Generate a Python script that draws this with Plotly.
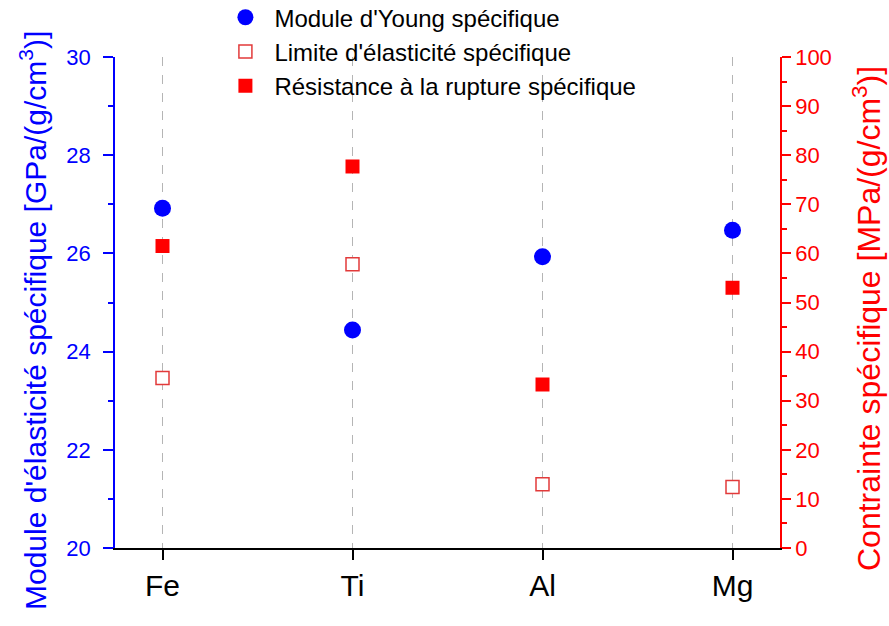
import plotly.graph_objects as go

metals = ["Fe", "Ti", "Al", "Mg"]
young_specific = [26.92, 24.44, 25.93, 26.47]          # GPa/(g/cm3), left axis
yield_specific = [34.6, 57.8, 13.0, 12.4]              # MPa/(g/cm3), right axis
tensile_specific = [61.5, 77.7, 33.3, 53.0]            # MPa/(g/cm3), right axis

left_title = "Module d'élasticité spécifique [GPa/(g/cm<sup>3</sup>)]"
right_title = "Contrainte spécifique [MPa/(g/cm<sup>3</sup>)]"

FONT = "Liberation Sans, Arial, sans-serif"
BLUE = "#0000ff"
RED = "#ff0000"

fig = go.Figure()
fig.add_trace(go.Scatter(
    x=metals, y=young_specific, mode="markers", name="Module d'Young spécifique",
    marker=dict(symbol="circle", size=17, color=BLUE, line=dict(width=0)),
    yaxis="y"))
fig.add_trace(go.Scatter(
    x=metals, y=yield_specific, mode="markers", name="Limite d'élasticité spécifique",
    marker=dict(symbol="square", size=13, color="white", line=dict(width=1.5, color="#e23a3a")),
    yaxis="y2"))
fig.add_trace(go.Scatter(
    x=metals, y=tensile_specific, mode="markers", name="Résistance à la rupture spécifique",
    marker=dict(symbol="square", size=14, color=RED, line=dict(width=0)),
    yaxis="y2"))

fig.update_layout(
    width=889, height=626,
    margin=dict(l=115, r=109, t=57, b=78, autoexpand=False),
    paper_bgcolor="white", plot_bgcolor="white",
    font=dict(family=FONT, color="black"),
    showlegend=True,
    legend=dict(x=0.1525, y=1.126, xanchor="left", yanchor="top",
                font=dict(size=24, color="black", family=FONT),
                bgcolor="rgba(0,0,0,0)", tracegroupgap=0, itemsizing="trace",
                itemwidth=48),
    xaxis=dict(
        type="category", range=[-0.25, 3.25], automargin=False,
        showline=True, linecolor="black", linewidth=1.5,
        ticks="outside", ticklen=10, tickwidth=1.5, tickcolor="black",
        tickfont=dict(size=30, color="black", family=FONT),
        showgrid=True, gridcolor="#b5b5b5", griddash="dash", gridwidth=1,
        zeroline=False, mirror=False),
    yaxis=dict(
        range=[20, 30], dtick=2, tick0=20, automargin=False,
        showline=True, linecolor=BLUE, linewidth=1.5,
        ticks="outside", ticklen=10, tickwidth=1.5, tickcolor=BLUE,
        minor=dict(dtick=1, ticks="outside", ticklen=5, tickwidth=1.5, tickcolor=BLUE, showgrid=False),
        tickfont=dict(size=22, color=BLUE, family=FONT), ticklabelstandoff=8,
        showgrid=False, zeroline=False),
    yaxis2=dict(
        range=[0, 100], dtick=10, tick0=0, automargin=False,
        overlaying="y", side="right", anchor="x",
        showline=True, linecolor=RED, linewidth=1.5,
        ticks="outside", ticklen=9, tickwidth=1.5, tickcolor=RED,
        minor=dict(dtick=5, ticks="outside", ticklen=5, tickwidth=1.5, tickcolor=RED, showgrid=False),
        tickfont=dict(size=22, color=RED, family=FONT),
        showgrid=False, zeroline=False),
    annotations=[
        dict(text=left_title, textangle=-90, xref="paper", yref="paper",
             x=-0.1233, y=0.4623, xanchor="center", yanchor="middle", showarrow=False,
             font=dict(size=30, color=BLUE, family=FONT)),
        dict(text=right_title, textangle=-90, xref="paper", yref="paper",
             x=1.1308, y=0.4684, xanchor="center", yanchor="middle", showarrow=False,
             font=dict(size=32, color=RED, family=FONT)),
    ],
)

fig.write_html("out.html", config={"displayModeBar": False},
               post_script="document.body.style.margin='0';")
